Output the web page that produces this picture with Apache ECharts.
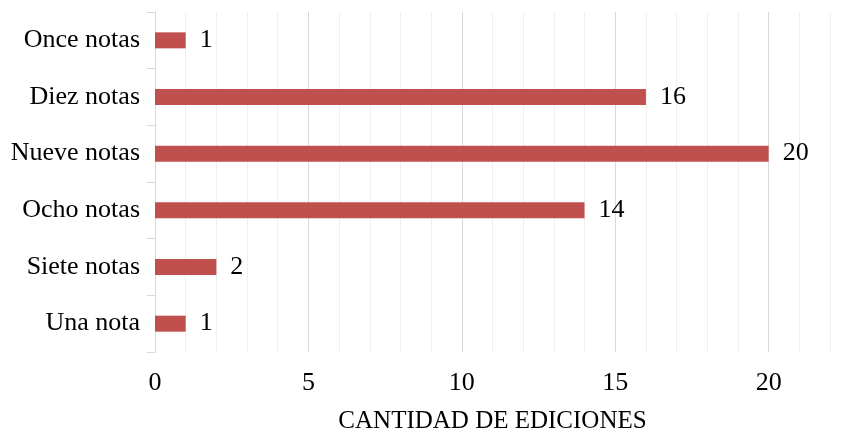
<!DOCTYPE html>
<html>
<head>
<meta charset="utf-8">
<script src="https://cdn.jsdelivr.net/npm/echarts@6/dist/echarts.min.js"></script>
<style>
  html, body { margin: 0; padding: 0; background: #fff; }
  #chart { width: 857px; height: 432px; }
</style>
</head>
<body>
<div id="chart"></div>
<script>
// categorias (de abajo hacia arriba) y cantidad de ediciones
var categorias = ['Una nota', 'Siete notas', 'Ocho notas', 'Nueve notas', 'Diez notas', 'Once notas'];
var ediciones = [1, 2, 14, 20, 16, 1];

var fuente = '"Liberation Serif", "Times New Roman", serif';

var myChart = echarts.init(document.getElementById('chart'));
var options = {
    backgroundColor: '#fff',
    textStyle: { fontFamily: fuente },
    grid: { left: 155, right: 27, top: 12, bottom: 80, containLabel: false, outerBoundsMode: 'none' },
    xAxis: {
        type: 'value',
        min: 0,
        max: 22,
        interval: 1,
        name: 'CANTIDAD DE EDICIONES',
        nameLocation: 'middle',
        nameGap: 57,
        nameTextStyle: { fontFamily: fuente, fontSize: 25, color: '#000' },
        axisLine: { show: false },
        axisTick: { show: false },
        axisLabel: {
            fontFamily: fuente,
            fontSize: 26,
            color: '#000',
            margin: 18,
            showMaxLabel: false,
            formatter: function (v) { return v % 5 === 0 ? String(v) : ''; }
        },
        splitLine: {
            show: true,
            showMinLine: true,
            showMaxLine: true,
            lineStyle: { color: ['#d9d9d9', '#efefef', '#efefef', '#efefef', '#efefef'], width: 1 }
        }
    },
    yAxis: {
        type: 'category',
        data: categorias,
        axisLine: { show: true, lineStyle: { color: '#d9d9d9', width: 1 } },
        axisTick: { show: true, length: 8, lineStyle: { color: '#d9d9d9' } },
        axisLabel: { fontFamily: fuente, fontSize: 26, color: '#000', margin: 15 },
        splitLine: { show: false }
    },
    series: [
        {
            type: 'bar',
            data: ediciones,
            barWidth: 16,
            itemStyle: { color: '#c0504d' },
            label: {
                show: true,
                position: 'right',
                distance: 14,
                fontFamily: fuente,
                fontSize: 26,
                color: '#000'
            }
        }
    ]
};
myChart.setOption(options);
</script>
</body>
</html>
